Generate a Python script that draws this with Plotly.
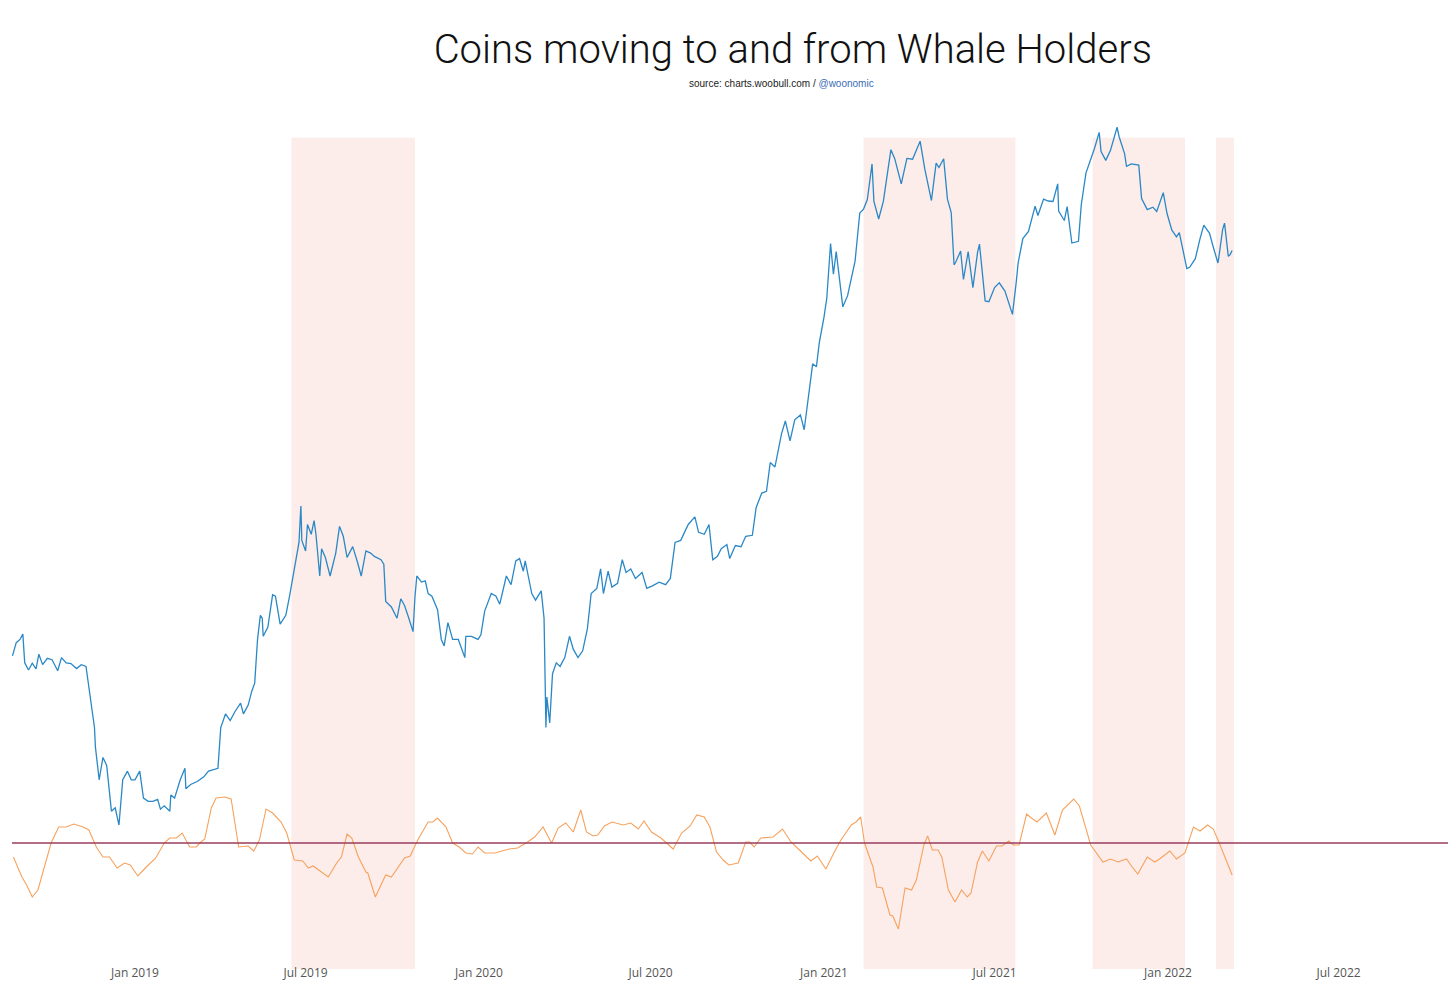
import plotly.graph_objs as go

# -- precio BTC (escala log)
fechas_precio = [
    '2018-08-24', '2018-08-28', '2018-09-01', '2018-09-04', '2018-09-06', '2018-09-10', '2018-09-14',
    '2018-09-18', '2018-09-21', '2018-09-25', '2018-09-30', '2018-10-05', '2018-10-11', '2018-10-15',
    '2018-10-20', '2018-10-25', '2018-10-31', '2018-11-05', '2018-11-10', '2018-11-14', '2018-11-19',
    '2018-11-20', '2018-11-24', '2018-11-25', '2018-11-28', '2018-12-02', '2018-12-07', '2018-12-11',
    '2018-12-15', '2018-12-19', '2018-12-24', '2018-12-28', '2019-01-01', '2019-01-06', '2019-01-10',
    '2019-01-15', '2019-01-20', '2019-01-25', '2019-01-28', '2019-02-01', '2019-02-07', '2019-02-08',
    '2019-02-12', '2019-02-18', '2019-02-23', '2019-02-24', '2019-03-01', '2019-03-08', '2019-03-15',
    '2019-03-20', '2019-03-30', '2019-04-02', '2019-04-07', '2019-04-12', '2019-04-17', '2019-04-23',
    '2019-04-26', '2019-05-01', '2019-05-05', '2019-05-08', '2019-05-11', '2019-05-14', '2019-05-16',
    '2019-05-17', '2019-05-22', '2019-05-27', '2019-05-30', '2019-06-04', '2019-06-10', '2019-06-14',
    '2019-06-17', '2019-06-21', '2019-06-24', '2019-06-26', '2019-06-27', '2019-07-01', '2019-07-03',
    '2019-07-07', '2019-07-10', '2019-07-12', '2019-07-16', '2019-07-18', '2019-07-22', '2019-07-27',
    '2019-08-02', '2019-08-06', '2019-08-10', '2019-08-14', '2019-08-20', '2019-08-25', '2019-08-29',
    '2019-09-03', '2019-09-08', '2019-09-12', '2019-09-19', '2019-09-22', '2019-09-24', '2019-09-30',
    '2019-10-06', '2019-10-10', '2019-10-14', '2019-10-18', '2019-10-23', '2019-10-25', '2019-10-27',
    '2019-11-01', '2019-11-05', '2019-11-08', '2019-11-12', '2019-11-18', '2019-11-22', '2019-11-25',
    '2019-11-29', '2019-12-04', '2019-12-10', '2019-12-17', '2019-12-18', '2019-12-24', '2019-12-31',
    '2020-01-03', '2020-01-07', '2020-01-14', '2020-01-19', '2020-01-23', '2020-01-30', '2020-02-04',
    '2020-02-09', '2020-02-13', '2020-02-17', '2020-02-19', '2020-02-26', '2020-03-01', '2020-03-07',
    '2020-03-10', '2020-03-12', '2020-03-13', '2020-03-16', '2020-03-19', '2020-03-23', '2020-03-27',
    '2020-04-01', '2020-04-06', '2020-04-10', '2020-04-15', '2020-04-20', '2020-04-25', '2020-04-29',
    '2020-05-05', '2020-05-09', '2020-05-12', '2020-05-17', '2020-05-21', '2020-05-27', '2020-06-01',
    '2020-06-05', '2020-06-10', '2020-06-15', '2020-06-22', '2020-06-27', '2020-07-03', '2020-07-10',
    '2020-07-17', '2020-07-22', '2020-07-27', '2020-08-02', '2020-08-10', '2020-08-17', '2020-08-21',
    '2020-08-27', '2020-09-01', '2020-09-05', '2020-09-10', '2020-09-14', '2020-09-20', '2020-09-23',
    '2020-09-29', '2020-10-05', '2020-10-10', '2020-10-17', '2020-10-21', '2020-10-27', '2020-11-01',
    '2020-11-05', '2020-11-10', '2020-11-17', '2020-11-21', '2020-11-26', '2020-12-01', '2020-12-07',
    '2020-12-11', '2020-12-16', '2020-12-20', '2020-12-24', '2020-12-27', '2021-01-01', '2021-01-04',
    '2021-01-08', '2021-01-11', '2021-01-14', '2021-01-21', '2021-01-26', '2021-01-29', '2021-02-03',
    '2021-02-08', '2021-02-12', '2021-02-16', '2021-02-21', '2021-02-23', '2021-02-28', '2021-03-05',
    '2021-03-09', '2021-03-13', '2021-03-17', '2021-03-24', '2021-03-30', '2021-04-05', '2021-04-13',
    '2021-04-18', '2021-04-25', '2021-04-30', '2021-05-03', '2021-05-08', '2021-05-12', '2021-05-16',
    '2021-05-19', '2021-05-21', '2021-05-26', '2021-05-29', '2021-06-03', '2021-06-08', '2021-06-13',
    '2021-06-15', '2021-06-21', '2021-06-25', '2021-07-01', '2021-07-06', '2021-07-12', '2021-07-20',
    '2021-07-24', '2021-07-26', '2021-07-31', '2021-08-06', '2021-08-13', '2021-08-16', '2021-08-22',
    '2021-08-27', '2021-09-01', '2021-09-06', '2021-09-07', '2021-09-13', '2021-09-16', '2021-09-21',
    '2021-09-28', '2021-10-01', '2021-10-06', '2021-10-15', '2021-10-20', '2021-10-22', '2021-10-27',
    '2021-11-01', '2021-11-08', '2021-11-10', '2021-11-16', '2021-11-18', '2021-11-23', '2021-11-28',
    '2021-12-01', '2021-12-04', '2021-12-10', '2021-12-16', '2021-12-20', '2021-12-27', '2021-12-31',
    '2022-01-05', '2022-01-10', '2022-01-13', '2022-01-21', '2022-01-24', '2022-01-30', '2022-02-04',
    '2022-02-08', '2022-02-10', '2022-02-14', '2022-02-18', '2022-02-23', '2022-02-24', '2022-02-28',
    '2022-03-02', '2022-03-06', '2022-03-08', '2022-03-10',
]
precio = [
    6700, 7100, 7200, 7370, 6500, 6300, 6490,
    6330, 6750, 6450, 6630, 6590, 6280, 6650,
    6500, 6480, 6340, 6450, 6400, 5700, 4900,
    4500, 3900, 4000, 4300, 4150, 3400, 3450,
    3200, 3900, 4050, 3900, 3900, 4050, 3600,
    3550, 3550, 3580, 3430, 3480, 3400, 3650,
    3600, 3900, 4100, 3750, 3820, 3870, 3950,
    4050, 4100, 4900, 5200, 5050, 5250, 5450,
    5200, 5400, 5750, 5950, 7200, 8000, 7900,
    7300, 7600, 8750, 8700, 7700, 8000, 8700,
    9300, 10200, 11000, 12900, 11100, 10600, 11900,
    11400, 12100, 11400, 9500, 10700, 10300, 9500,
    10500, 11800, 11300, 10300, 10800, 10100, 9500,
    10600, 10500, 10350, 10200, 10000, 8500, 8300,
    7900, 8600, 8350, 7950, 7450, 8650, 9500,
    9250, 9300, 8800, 8700, 8200, 7200, 7000,
    7750, 7200, 7200, 6650, 7300, 7300, 7200,
    7350, 8150, 8800, 8700, 8400, 9500, 9150,
    10150, 10250, 9700, 10150, 8800, 8550, 8900,
    7900, 4900, 5600, 5000, 6200, 6500, 6400,
    6650, 7300, 6900, 6650, 6850, 7550, 8800,
    9000, 9800, 8800, 9700, 9050, 9200, 10200,
    9650, 9800, 9400, 9650, 9000, 9100, 9250,
    9150, 9400, 11000, 11100, 11900, 12300, 11500,
    11400, 11900, 10200, 10350, 10700, 10900, 10250,
    10850, 10800, 11300, 11350, 12800, 13650, 13750,
    15600, 15300, 17700, 18700, 17150, 18800, 19200,
    18000, 21300, 24000, 23700, 26300, 29400, 32000,
    40600, 35500, 39200, 30800, 32300, 34300, 37600,
    46400, 47200, 49200, 57500, 48800, 45200, 48800,
    54800, 61200, 58900, 52700, 58900, 58700, 63500,
    56200, 49000, 57700, 56600, 58800, 49300, 46500,
    37000, 37500, 39300, 34700, 39200, 33500, 39100,
    40500, 31600, 31500, 33500, 34200, 33000, 29800,
    34300, 37300, 41500, 42800, 47800, 45900, 49300,
    48900, 48800, 52700, 46800, 44900, 47700, 40700,
    41000, 48100, 55300, 61500, 66000, 60700, 58400,
    61000, 67500, 64900, 60100, 56900, 57500, 57200,
    57200, 49400, 47100, 47600, 46700, 50700, 46300,
    43100, 41800, 42600, 36400, 36600, 38000, 41500,
    44000, 43500, 42500, 40000, 37300, 38300, 43200,
    44400, 38400, 38700, 39400,
]

# -- flujo neto de ballenas (oscilador)
fechas_flujo = [
    '2018-08-25', '2018-09-03', '2018-09-08', '2018-09-14', '2018-09-20', '2018-09-27', '2018-10-04',
    '2018-10-12', '2018-10-20', '2018-10-28', '2018-11-07', '2018-11-13', '2018-11-21', '2018-11-28',
    '2018-12-05', '2018-12-13', '2018-12-21', '2018-12-27', '2019-01-04', '2019-01-13', '2019-01-23',
    '2019-02-01', '2019-02-07', '2019-02-14', '2019-02-20', '2019-02-28', '2019-03-07', '2019-03-12',
    '2019-03-16', '2019-03-23', '2019-03-28', '2019-04-06', '2019-04-13', '2019-04-21', '2019-05-01',
    '2019-05-07', '2019-05-13', '2019-05-20', '2019-05-27', '2019-06-05', '2019-06-11', '2019-06-19',
    '2019-06-28', '2019-07-04', '2019-07-09', '2019-07-25', '2019-08-03', '2019-08-08', '2019-08-14',
    '2019-08-19', '2019-08-26', '2019-09-03', '2019-09-05', '2019-09-13', '2019-09-18', '2019-09-24',
    '2019-09-30', '2019-10-07', '2019-10-14', '2019-10-20', '2019-10-28', '2019-11-08', '2019-11-13',
    '2019-11-18', '2019-11-27', '2019-12-04', '2019-12-11', '2019-12-18', '2019-12-25', '2019-12-31',
    '2020-01-07', '2020-01-18', '2020-01-25', '2020-02-02', '2020-02-11', '2020-02-20', '2020-02-29',
    '2020-03-09', '2020-03-18', '2020-03-25', '2020-04-02', '2020-04-10', '2020-04-18', '2020-04-24',
    '2020-05-01', '2020-05-06', '2020-05-13', '2020-05-21', '2020-06-02', '2020-06-10', '2020-06-18',
    '2020-06-24', '2020-07-02', '2020-07-12', '2020-07-18', '2020-07-25', '2020-08-03', '2020-08-12',
    '2020-08-19', '2020-08-27', '2020-09-02', '2020-09-09', '2020-09-16', '2020-09-22', '2020-10-02',
    '2020-10-10', '2020-10-14', '2020-10-19', '2020-10-26', '2020-11-08', '2020-11-18', '2020-11-27',
    '2020-12-06', '2020-12-18', '2020-12-25', '2021-01-03', '2021-01-12', '2021-01-19', '2021-01-30',
    '2021-02-04', '2021-02-09', '2021-02-13', '2021-02-22', '2021-02-26', '2021-03-04', '2021-03-12',
    '2021-03-15', '2021-03-21', '2021-03-28', '2021-04-04', '2021-04-09', '2021-04-17', '2021-04-21',
    '2021-04-26', '2021-05-02', '2021-05-06', '2021-05-13', '2021-05-20', '2021-05-27', '2021-06-02',
    '2021-06-06', '2021-06-13', '2021-06-18', '2021-06-25', '2021-07-03', '2021-07-09', '2021-07-16',
    '2021-07-21', '2021-07-27', '2021-08-04', '2021-08-09', '2021-08-15', '2021-08-25', '2021-09-03',
    '2021-09-11', '2021-09-23', '2021-09-29', '2021-10-11', '2021-10-24', '2021-11-01', '2021-11-09',
    '2021-11-18', '2021-11-24', '2021-11-30', '2021-12-10', '2021-12-18', '2021-12-23', '2022-01-03',
    '2022-01-10', '2022-01-19', '2022-01-28', '2022-02-04', '2022-02-12', '2022-02-18', '2022-02-24',
    '2022-03-10',
]
flujo = [
    -1.4, -3.4, -4.2, -5.4, -4.7, -2.4, 0.0,
    1.6, 1.6, 1.9, 1.6, 1.3, -0.4, -1.4,
    -1.4, -2.5, -2.0, -2.2, -3.3, -2.4, -1.5,
    0.0, 0.5, 0.5, 1.0, -0.4, -0.4, 0.1,
    0.4, 3.5, 4.5, 4.6, 4.4, -0.4, -0.3,
    -0.8, 0.3, 3.4, 3.0, 2.1, 1.0, -1.7,
    -1.8, -2.5, -2.3, -3.4, -2.0, -1.4, 0.9,
    0.5, -1.4, -2.9, -3.0, -5.4, -4.4, -3.2,
    -3.4, -2.5, -1.5, -1.3, 0.3, 2.1, 2.1,
    2.5, 1.6, 0.0, -0.4, -1.0, -1.1, -0.4,
    -1.0, -1.0, -0.8, -0.6, -0.5, 0.0, 0.6,
    1.6, 0.0, 1.5, 2.0, 1.1, 3.3, 1.1,
    0.7, 0.8, 1.7, 2.1, 1.8, 2.0, 1.4,
    2.2, 1.1, 0.5, 0.0, -0.6, 1.0, 1.7,
    2.8, 2.6, 1.6, -0.9, -1.7, -2.2, -2.0,
    0.1, 0.1, -0.4, 0.5, 0.6, 1.4, 0.1,
    -0.7, -1.8, -1.3, -2.6, -0.9, 0.3, 1.8,
    2.1, 2.6, 0.0, -2.4, -4.4, -4.5, -7.2,
    -7.3, -8.6, -4.5, -4.7, -3.7, -0.2, 0.7,
    -0.7, -0.7, -1.4, -4.7, -5.9, -4.7, -5.4,
    -5.0, -1.9, -0.8, -1.8, -0.3, -0.3, 0.2,
    -0.2, -0.2, 2.9, 2.5, 2.1, 3.0, 0.8,
    3.3, 4.4, 3.7, -0.2, -1.9, -1.6, -1.9,
    -1.6, -2.4, -3.1, -1.4, -1.9, -1.6, -0.8,
    -1.6, -1.0, 1.6, 1.2, 1.8, 1.4, 0.1,
    -3.2,
]

# -- periodos sombreados (inicio, fin)
periodos_ini = ['2019-06-16', '2021-02-12', '2021-10-13', '2022-02-21']
periodos_fin = ['2019-10-25', '2021-07-23', '2022-01-19', '2022-03-12']

# Inicializar figura
fig = go.Figure()

fig.add_trace(go.Scatter(x=fechas_precio, y=precio, mode='lines', name='Precio',
                         line=dict(color='#2a88c6', width=1.3), yaxis='y'))

fig.add_trace(go.Scatter(x=fechas_flujo, y=flujo, mode='lines', name='Flujo ballenas',
                         line=dict(color='#f6a25e', width=1.1), yaxis='y2'))

sombras = [dict(type='rect', xref='x', yref='paper', x0=i, x1=f, y0=-0.006, y1=0.979,
                fillcolor='#fcecea', line=dict(width=0), layer='below')
           for i, f in zip(periodos_ini, periodos_fin)]

# linea de cero del oscilador
sombras.append(dict(type='line', xref='paper', yref='y2', x0=0, x1=1, y0=0, y1=0,
                    line=dict(color='#9a3d5c', width=1.3), layer='above'))

# la pagina agrega 8px de margen, se compensa en los margenes
fig.update_layout(
    width=1456, height=1000,
    paper_bgcolor='white', plot_bgcolor='white',
    margin=dict(l=4, r=8, t=112, b=44),
    showlegend=False,
    title=dict(text='Coins moving to and from Whale Holders', x=0.539, xanchor='center', xref='container',
               y=0.959, yanchor='middle',
               font=dict(family='Roboto', size=40, color='#111', weight=300)),
    annotations=[dict(xref='paper', yref='paper', x=0.533, y=1.0438, showarrow=False,
                      xanchor='center', yanchor='middle',
                      text='source: charts.woobull.com / <span style="color:#3a6cb5">@woonomic</span>',
                      font=dict(family='Liberation Sans', size=10, color='#222'))],
    xaxis=dict(type='date', range=['2018-08-23 12:00', '2022-11-02 14:00'],
               tickformat='%b %Y', dtick='M6', tick0='2019-01-01',
               showgrid=False, zeroline=False, showline=False, ticks='',
               tickfont=dict(family='Open Sans', size=12, color='#555')),
    yaxis=dict(type='log', range=[3.2415, 4.843], visible=False, showgrid=False),
    yaxis2=dict(range=[-12.1, 72.3], overlaying='y', visible=False, showgrid=False),
    shapes=sombras,
)

fig.write_html("out.html")
